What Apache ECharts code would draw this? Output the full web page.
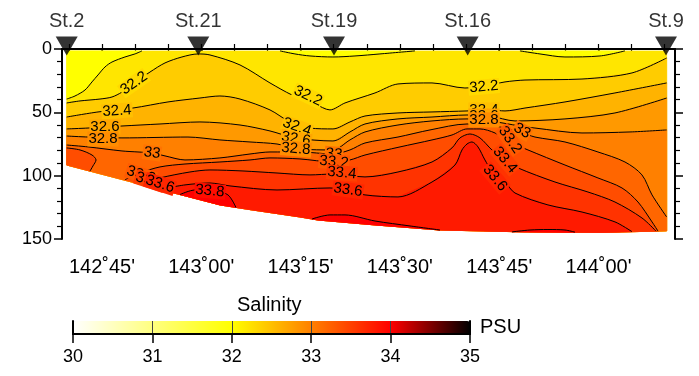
<!DOCTYPE html>
<html>
<head>
<meta charset="utf-8">
<script src="https://cdn.jsdelivr.net/npm/echarts@6/dist/echarts.min.js"></script>
<style>
html,body{margin:0;padding:0;background:#fff}
#main{width:699px;height:376px}
</style>
</head>
<body>
<div id="main"></div>
<script>
// longitude is stored as minutes east of 142°E, depth in metres
var stationName = ['St.2', 'St.21', 'St.19', 'St.16', 'St.9'];
var stationLon = [39.67, 59.55, 80.05, 100.24, 130.2];

// sea floor under the section
var bottomLon = [39.67, 44.70, 52.25, 59.80, 62.82, 67.36, 74.91, 77.63, 86.24, 96.06, 108.90, 120.23, 130.30];
var bottomDepth = [91.6, 98.5, 108.8, 119.0, 123.1, 126.8, 132.6, 135.0, 138.9, 142.9, 144.4, 144.8, 143.6];

// contour lines [lon, depth]
var c320a = [[39.67,39.5],[40.92,37.1],[42.43,32.4],[43.49,26.0],[44.40,20.5],[45.45,14.2],[46.51,10.3],[48.47,6.3],[49.98,3.9],[51.04,1.5]];
var c320b = [[71.89,1.5],[74.15,3.9],[76.42,5.5],[79.89,6.3],[83.22,5.5],[86.99,3.9],[92.28,1.5]];
var c320c = [[108.14,1.5],[111.16,3.9],[114.94,6.3],[120.23,5.5],[124.00,1.5]];
var c322 = [[39.67,42.6],[41.68,41.0],[44.70,39.5],[46.51,37.9],[48.02,34.0],[49.83,26.8],[52.25,18.2],[54.52,11.0],[57.08,6.3],[59.50,3.9],[61.31,4.7],[65.85,12.6],[70.38,26.8],[73.70,36.3],[77.18,43.4],[79.44,48.1],[81.71,42.6],[86.24,34.7],[89.71,27.6],[94.85,26.8],[99.83,30.8],[102.85,29.2],[105.88,26.0],[108.90,24.5],[117.51,23.7],[125.06,18.9],[130.30,7.1]];
var c324 = [[39.67,53.7],[44.40,49.7],[49.68,46.6],[54.97,41.8],[59.80,38.7],[62.82,37.1],[65.85,39.5],[70.38,48.1],[73.40,57.6],[76.42,62.4],[79.89,63.1],[82.46,57.6],[84.73,52.9],[89.71,50.5],[94.85,49.7],[100.14,48.9],[103.61,48.1],[105.88,48.9],[108.90,46.6],[114.94,41.8],[122.49,34.7],[130.30,26.8]];
var c326 = [[39.67,63.1],[42.89,62.4],[48.02,60.8],[53.76,59.2],[59.80,57.6],[65.85,60.0],[70.38,64.7],[74.15,70.2],[79.89,72.6],[82.46,65.5],[84.73,59.2],[89.71,55.2],[94.85,53.7],[100.14,52.1],[103.61,52.9],[107.39,56.8],[114.94,55.2],[122.49,50.5],[130.30,38.7]];
var c328 = [[39.67,68.7],[42.89,69.5],[48.02,70.2],[57.99,69.5],[62.82,71.8],[67.36,73.4],[71.44,75.0],[74.91,78.9],[79.89,79.7],[82.46,71.8],[84.73,65.5],[89.71,60.0],[94.85,56.8],[100.14,55.2],[103.61,56.8],[108.14,60.8],[110.41,62.4],[117.51,66.3],[124.76,65.5],[130.30,63.9]];
var c330 = [[39.67,75.8],[42.89,77.3],[48.02,80.5],[50.44,81.3],[52.55,82.1],[54.52,84.4],[57.54,87.6],[62.82,86.0],[67.36,82.9],[70.38,81.3],[74.91,81.3],[79.89,82.9],[82.46,79.7],[84.73,74.2],[89.71,69.5],[94.55,63.9],[100.14,59.2],[102.85,59.2],[105.12,61.6],[108.14,65.5],[110.41,69.5],[114.94,73.4],[119.92,81.3],[124.00,89.2],[126.57,99.4],[128.09,115.2],[130.30,132.6]];
var c332a = [[39.67,78.1],[41.68,79.7],[43.49,83.7],[44.10,87.6],[43.64,92.3],[43.19,96.4]];
var c332b = [[48.47,103.2],[50.74,97.9],[53.76,93.1],[57.54,90.8],[62.82,89.2],[67.36,87.6],[70.38,86.0],[74.91,86.8],[79.89,89.2],[82.46,87.6],[84.73,83.7],[90.02,77.3],[94.85,71.8],[97.87,67.9],[100.14,63.1],[102.10,63.1],[104.37,66.3],[106.63,73.4],[109.35,79.7],[114.94,91.6],[119.92,101.8],[123.55,109.7],[125.97,120.8],[128.09,136.5],[128.99,143.8]];
var c334 = [[50.74,106.7],[53.76,101.8],[58.29,97.1],[61.31,95.5],[66.30,96.3],[71.44,97.9],[76.42,99.4],[79.89,98.7],[84.73,101.0],[89.71,97.1],[94.85,89.2],[97.87,78.1],[99.08,70.2],[100.59,67.1],[102.10,70.2],[103.91,79.7],[105.88,87.6],[107.85,93.9],[113.43,105.0],[118.41,112.9],[122.49,120.8],[126.57,133.4],[128.69,143.8]];
var c336 = [[53.76,110.8],[57.54,107.3],[61.31,105.8],[64.34,108.1],[71.44,111.3],[79.44,109.7],[84.73,115.2],[89.71,116.8],[94.85,105.0],[98.32,91.6],[99.38,79.7],[100.14,75.0],[100.89,73.4],[101.80,77.3],[102.85,87.6],[103.91,96.3],[105.88,105.0],[107.39,113.7],[112.37,123.1],[117.51,128.7],[122.49,136.5],[125.06,144.2]];
var c338a = [[56.78,114.9],[59.05,111.3],[61.62,111.3],[64.03,115.2],[65.24,125.1]];
var c338b = [[76.72,134.2],[79.44,131.0],[81.71,131.0],[86.24,135.8],[91.53,139.7],[96.06,142.9]];
var c338c = [[106.93,144.4],[109.65,142.9],[112.37,142.5],[114.94,142.9],[116.45,144.6]];

// contour labels
var labelText = ['32.2','32.4','32.6','32.8','33','33.2','33.4','33.6','33.8',
                 '32.2','32.4','32.6','32.8','33','33.2','33.4','33.6',
                 '32.2','32.4','32.6','32.8','33','33.2','33.4','33.6'];
var labelLon = [49.83,47.27,45.45,45.15,52.55,50.89,52.25,53.76,61.31,
                76.12,74.45,74.30,74.30,80.05,80.05,81.25,82.16,
                102.70,102.70,102.70,102.70,108.44,106.63,105.88,104.37];
var labelDepth = [27.0,48.9,61.6,71.0,82.1,99.4,104.2,106.6,112.1,
                  37.1,61.6,71.0,78.9,82.9,89.2,97.9,111.3,
                  29.9,48.1,52.9,56.0,64.7,71.8,87.6,101.8];
var labelAngle = [35,4,0,0,-8,-18,-18,-18,-5,
                  -25,-20,-10,-5,-5,-5,-5,-8,
                  5,0,0,0,-30,-55,-50,-50];

var lonMajor = [45, 60, 75, 90, 105, 120];
var lonMinor = [40, 45, 50, 55, 60, 65, 70, 75, 80, 85, 90, 95, 100, 105, 110, 115, 120, 125, 130];
var salStops = [30, 31, 32, 33, 34, 35];
var salColors = ['#ffffff', '#ffff80', '#ffff00', '#ff8000', '#ff0000', '#000000'];

var FONT = '"Liberation Sans", Arial, Helvetica, sans-serif';
var LEFT = 39.67, RIGHT = 130.30, TOP = 1.5;

var chart = echarts.init(document.getElementById('main'));

function hexToRgb(h) {
    return [parseInt(h.substr(1, 2), 16), parseInt(h.substr(3, 2), 16), parseInt(h.substr(5, 2), 16)];
}
function salColor(s) {
    for (var i = 0; i < salStops.length - 1; i++) {
        if (s <= salStops[i + 1]) {
            var t = (s - salStops[i]) / (salStops[i + 1] - salStops[i]);
            var a = hexToRgb(salColors[i]), b = hexToRgb(salColors[i + 1]);
            return 'rgb(' + Math.round(a[0] + (b[0] - a[0]) * t) + ',' + Math.round(a[1] + (b[1] - a[1]) * t) + ',' + Math.round(a[2] + (b[2] - a[2]) * t) + ')';
        }
    }
    return salColors[salColors.length - 1];
}

// region below a contour, closed along the sea floor / section edges
function closeBelow(line) {
    var a = line[0][0], b = line[line.length - 1][0];
    var lo = Math.min(a, b) - 0.01, hi = Math.max(a, b) + 0.01;
    var bot = [];
    for (var i = 0; i < bottomLon.length; i++) {
        if (bottomLon[i] >= lo && bottomLon[i] <= hi) bot.push([bottomLon[i], bottomDepth[i]]);
    }
    if (b > a) bot.reverse();
    return line.concat(bot);
}

// each band is painted with the colour of its upper bound, like the original
var fills = [];
var whole = [[LEFT, TOP], [RIGHT, TOP]];
for (var i = bottomLon.length - 1; i >= 0; i--) whole.push([bottomLon[i], bottomDepth[i]]);
fills.push({v: 32.2, poly: whole});
fills.push({v: 32.0, poly: c320a.concat([[LEFT, TOP]])});
fills.push({v: 32.0, poly: c320b});
fills.push({v: 32.0, poly: c320c});
var upper = [
    [32.2, c322], [32.4, c324], [32.6, c326], [32.8, c328], [33.0, c330],
    [33.2, c332a], [33.2, c332b], [33.4, c334], [33.6, c336],
    [33.8, c338a], [33.8, c338b], [33.8, c338c]
];
upper.forEach(function (u) {
    fills.push({v: u[0] + 0.2, poly: closeBelow(u[1])});
});

var series = [];
series.push({
    type: 'custom',
    xAxisIndex: 0, yAxisIndex: 0,
    silent: true,
    z: 1,
    dimensions: ['lon', 'depth', 'sal'],
    encode: {x: 0, y: 1},
    data: fills.map(function (f) { return [f.poly[0][0], f.poly[0][1], f.v]; }),
    renderItem: function (params, api) {
        var pts = fills[params.dataIndex].poly.map(function (p) { return api.coord(p); });
        var col = api.visual('color');
        return {type: 'polygon', shape: {points: pts}, style: {fill: col, stroke: col, lineWidth: 0.6}};
    }
});

var allLines = [c320a, c320b, c320c, c322, c324, c326, c328, c330, c332a, c332b, c334, c336, c338a, c338b, c338c];
allLines.forEach(function (l) {
    series.push({
        type: 'line', xAxisIndex: 0, yAxisIndex: 0,
        data: l, symbol: 'none', smooth: 0.3, silent: true, z: 3,
        lineStyle: {color: '#000', width: 1}
    });
});

series.push({
    type: 'custom', xAxisIndex: 0, yAxisIndex: 0, silent: true, z: 4,
    data: labelLon.map(function (x, i) { return [x, labelDepth[i]]; }),
    renderItem: function (params, api) {
        var i = params.dataIndex;
        var c = api.coord([labelLon[i], labelDepth[i]]);
        return {
            type: 'text', x: c[0], y: c[1], rotation: labelAngle[i] * Math.PI / 180,
            style: {
                text: labelText[i], fill: '#000', font: '15px ' + FONT,
                align: 'center', verticalAlign: 'middle',
                backgroundColor: salColor(parseFloat(labelText[i]) + 0.1), padding: [0, 1]
            }
        };
    }
});

series.push({
    type: 'scatter', xAxisIndex: 0, yAxisIndex: 0, clip: false, silent: true, z: 10,
    data: stationLon.map(function (x) { return [x, -2.4]; }),
    symbol: 'path://M0,0L20,0L10,17Z', symbolSize: [22, 19],
    itemStyle: {color: '#000'},
    label: {
        show: true, position: 'top', distance: 5, color: '#000', fontSize: 20, fontFamily: FONT,
        formatter: function (p) { return stationName[p.dataIndex]; }
    }
});

function lonLabel(v) {
    var d = 142 + Math.floor(v / 60), m = Math.round(v % 60);
    return d + '˚' + (m < 10 ? '0' + m : m) + "'";
}

var option = {
    animation: false,
    backgroundColor: '#fff',
    grid: [
        {left: 62, top: 49, width: 613, height: 190},
        {left: 73, top: 321, width: 397, height: 13}
    ],
    xAxis: [
        {
            type: 'value', gridIndex: 0, position: 'bottom', min: 38.96, max: 131.56,
            axisLine: {show: true, lineStyle: {color: '#000', width: 2}},
            axisTick: {show: true, customValues: lonMajor, length: 9, lineStyle: {color: '#000', width: 1.5}},
            axisLabel: {show: true, customValues: lonMajor, formatter: lonLabel, color: '#000', fontSize: 20, fontFamily: FONT, margin: 18},
            splitLine: {show: false}
        },
        {
            type: 'value', gridIndex: 0, position: 'bottom', min: 38.96, max: 131.56,
            axisLine: {show: false},
            axisTick: {show: true, customValues: lonMinor, length: 5, lineStyle: {color: '#000', width: 1.2}},
            axisLabel: {show: false}, splitLine: {show: false}
        },
        {
            type: 'value', gridIndex: 0, position: 'top', min: 38.96, max: 131.56,
            axisLine: {show: true, lineStyle: {color: '#000', width: 2}},
            axisTick: {show: true, customValues: lonMinor, length: 5, lineStyle: {color: '#000', width: 1.2}},
            axisLabel: {show: false}, splitLine: {show: false}
        },
        {
            type: 'value', gridIndex: 1, position: 'bottom', min: 30, max: 35, interval: 1, z: 5,
            axisLine: {show: true, lineStyle: {color: '#000', width: 2}},
            axisTick: {show: true, length: 9, lineStyle: {color: '#000', width: 1.5}},
            axisLabel: {show: true, color: '#000', fontSize: 18, fontFamily: FONT, margin: 14},
            splitLine: {show: true, lineStyle: {color: '#444', width: 1}}
        },
        {
            type: 'value', gridIndex: 1, position: 'top', min: 30, max: 35, z: 5,
            axisLine: {show: true, lineStyle: {color: '#000', width: 2}},
            axisTick: {show: false}, axisLabel: {show: false}, splitLine: {show: false}
        }
    ],
    yAxis: [
        {
            type: 'value', gridIndex: 0, position: 'left', inverse: true, min: 0, max: 150, interval: 50,
            axisLine: {show: true, lineStyle: {color: '#000', width: 2}},
            axisTick: {show: true, length: 8, lineStyle: {color: '#000', width: 1.5}},
            minorTick: {show: true, splitNumber: 5, length: 5, lineStyle: {color: '#000', width: 1.2}},
            axisLabel: {show: true, color: '#000', fontSize: 18, fontFamily: FONT, margin: 10},
            splitLine: {show: false}
        },
        {
            type: 'value', gridIndex: 0, position: 'right', inverse: true, min: 0, max: 150, interval: 50,
            axisLine: {show: true, lineStyle: {color: '#000', width: 2}},
            axisTick: {show: true, length: 8, lineStyle: {color: '#000', width: 1.5}},
            minorTick: {show: true, splitNumber: 5, length: 5, lineStyle: {color: '#000', width: 1.2}},
            axisLabel: {show: false}, splitLine: {show: false}
        },
        {
            type: 'value', gridIndex: 1, position: 'left', min: 0, max: 1, z: 5,
            axisLine: {show: true, lineStyle: {color: '#000', width: 2}},
            axisTick: {show: false}, axisLabel: {show: false}, splitLine: {show: false}
        },
        {
            type: 'value', gridIndex: 1, position: 'right', min: 0, max: 1, z: 5,
            axisLine: {show: true, lineStyle: {color: '#000', width: 2}},
            axisTick: {show: false}, axisLabel: {show: false}, splitLine: {show: false}
        }
    ],
    visualMap: {
        type: 'continuous', min: 30, max: 35, dimension: 2, seriesIndex: 0,
        orient: 'horizontal', left: 73, top: 321, itemWidth: 13, itemHeight: 397,
        padding: 0, calculable: false, hoverLink: false, z: 1,
        inRange: {color: salColors}
    },
    graphic: [
        {type: 'text', left: 237, top: 295, style: {text: 'Salinity', fill: '#000', font: '20px ' + FONT}},
        {type: 'text', left: 480, top: 317, style: {text: 'PSU', fill: '#000', font: '20px ' + FONT}}
    ],
    series: series
};
chart.setOption(option);
</script>
</body>
</html>
